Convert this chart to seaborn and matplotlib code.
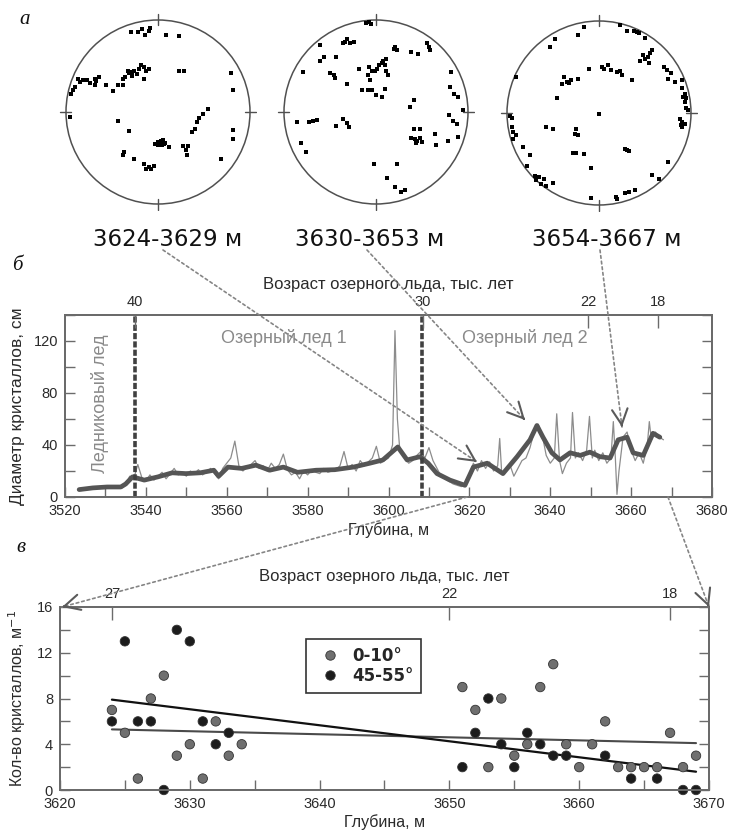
import numpy as np
import pandas as pd
import matplotlib
matplotlib.use("Agg")
import matplotlib.pyplot as plt
import seaborn as sns
from matplotlib.patches import Circle
from matplotlib.ticker import MultipleLocator

sns.set_style("ticks")
plt.rcParams['font.family'] = ['Liberation Sans', 'DejaVu Sans']

# ---------------- data ----------------
# stereonet poles (normalised coordinates inside unit circle)
s1_u = [-0.29,-0.22,-0.17,-0.14,-0.10,-0.09,0.09,0.23,
        -0.33,-0.31,-0.28,-0.26,-0.21,-0.18,-0.15,-0.13,-0.10,-0.23,-0.28,-0.36,-0.15,-0.38,0.23,0.28,
        -0.87,-0.85,-0.82,-0.77,-0.74,-0.69,-0.67,-0.64,-0.69,-0.56,-0.49,-0.44,-0.38,-0.92,-0.90,-0.95,
        0.79,0.81,-0.96,-0.44,-0.31,
        0.54,0.49,0.45,0.42,0.40,0.37,0.81,0.82,
        -0.03,0.00,0.03,0.05,0.06,0.04,0.08,0.12,0.00,0.27,0.33,0.31,0.30,
        -0.37,-0.38,-0.26,-0.15,-0.13,-0.08,-0.04,-0.10,0.69]
s1_v = [0.87,0.87,0.90,0.84,0.88,0.91,0.84,0.83,
        0.45,0.42,0.44,0.45,0.47,0.51,0.49,0.45,0.47,0.41,0.39,0.38,0.36,0.36,0.45,0.45,
        0.36,0.33,0.35,0.35,0.32,0.36,0.34,0.38,0.29,0.29,0.23,0.29,0.29,0.24,0.27,0.20,
        0.42,0.24,-0.05,-0.10,-0.21,
        0.03,-0.02,-0.07,-0.11,-0.18,-0.22,-0.20,-0.29,
        -0.35,-0.33,-0.31,-0.30,-0.35,-0.36,-0.34,-0.38,-0.36,-0.37,-0.37,-0.47,-0.41,
        -0.43,-0.47,-0.51,-0.56,-0.62,-0.62,-0.59,-0.60,-0.51]

s2_u = [-0.11,-0.08,-0.05,-0.34,-0.31,-0.28,-0.24,-0.36,-0.61,0.21,0.23,0.20,0.55,0.58,0.59,0.38,0.46,
        -0.56,-0.61,-0.44,0.11,0.08,0.06,0.03,0.10,0.01,-0.01,-0.04,0.11,-0.79,-0.50,-0.46,-0.45,
        -0.19,-0.08,-0.09,-0.06,0.13,-0.31,-0.15,-0.09,-0.04,0.00,0.06,0.10,0.81,0.80,0.85,0.89,
        0.41,0.37,0.95,-0.86,-0.73,-0.68,-0.64,-0.44,-0.36,-0.31,-0.29,0.79,0.84,0.88,
        0.41,0.48,0.38,0.42,0.45,0.48,0.50,0.43,0.64,0.65,0.78,0.89,-0.81,-0.76,
        -0.02,0.23,0.12,0.21,0.27,0.31]
s2_v = [0.97,0.98,0.96,0.76,0.79,0.75,0.76,0.75,0.73,0.71,0.67,0.69,0.75,0.71,0.67,0.65,0.63,
        0.60,0.55,0.60,0.58,0.55,0.53,0.51,0.51,0.47,0.45,0.45,0.45,0.44,0.42,0.40,0.37,
        0.47,0.49,0.40,0.35,0.40,0.30,0.24,0.24,0.24,0.19,0.16,0.25,0.43,0.27,0.20,0.16,
        0.13,0.05,0.02,-0.11,-0.11,-0.10,-0.09,-0.15,-0.08,-0.12,-0.16,-0.03,-0.10,-0.13,
        -0.19,-0.19,-0.28,-0.29,-0.31,-0.28,-0.33,-0.34,-0.24,-0.36,-0.31,-0.27,-0.34,-0.43,
        -0.57,-0.56,-0.72,-0.81,-0.87,-0.85]

s3_u = [-0.16,-0.23,0.23,0.30,0.38,0.41,0.44,0.50,-0.48,-0.53,0.58,0.55,0.53,0.50,0.48,0.45,0.54,
        0.71,0.74,0.78,0.75,0.83,0.90,-0.11,0.03,0.05,0.10,0.13,0.20,0.25,0.23,0.36,
        -0.38,-0.35,-0.33,-0.40,-0.30,-0.23,-0.90,0.90,0.93,0.95,0.91,0.94,-0.46,0.95,0.97,
        0.00,-0.97,-0.95,0.88,0.90,0.89,0.93,0.90,-0.95,-0.93,-0.90,-0.93,-0.58,-0.50,
        -0.25,-0.26,-0.23,0.28,0.30,0.33,-0.28,-0.25,-0.16,-0.83,-0.75,0.75,-0.09,-0.78,
        -0.70,-0.65,-0.60,-0.68,-0.63,-0.58,-0.50,0.58,0.65,-0.09,0.18,0.20,0.28,0.33,0.39]
s3_v = [0.94,0.85,0.96,0.89,0.89,0.88,0.87,0.81,0.80,0.72,0.68,0.65,0.61,0.59,0.63,0.56,0.54,
        0.50,0.47,0.43,0.37,0.34,0.36,0.48,0.50,0.48,0.52,0.47,0.45,0.41,0.46,0.36,
        0.39,0.34,0.33,0.32,0.36,0.37,0.39,0.27,0.21,0.16,0.17,0.12,0.16,0.05,0.03,
        -0.01,-0.03,-0.05,-0.06,-0.10,-0.13,-0.12,-0.15,-0.15,-0.21,-0.24,-0.28,-0.15,-0.17,
        -0.17,-0.23,-0.24,-0.39,-0.40,-0.41,-0.43,-0.44,-0.45,-0.37,-0.46,-0.53,-0.60,-0.58,
        -0.68,-0.70,-0.72,-0.73,-0.77,-0.79,-0.76,-0.67,-0.72,-0.92,-0.91,-0.93,-0.87,-0.86,-0.84]

stereo_labels = ["3624-3629 м", "3630-3653 м", "3654-3667 м"]

# crystal diameter profile (raw, thin line)
thin_depth = [3524,3526,3528,3530,3532,3534,3535,3536,3537,3538,3539,3540,3541,3542,3543,3544,3545,
              3546,3547,3548,3549,3550,3551,3552,3553,3554,3555,3556,3557,3558,3559,3560,3561,3562,
              3563,3564,3565,3566,3567,3568,3569,3570,3571,3572,3573,3574,3575,3576,3577,3578,3579,
              3580,3581,3582,3583,3584,3585,3586,3587,3588,3589,3590,3591,3592,3593,3594,3595,3596,
              3597,3598,3599,3600,3601,3601.6,3602.2,3602.8,3603.5,3604,3605,3606,3607,3608,3609,3610,
              3611,3612,3613,3614,3615,3616,3617,3618,3619,3620,3621,3622,3623,3624,3625,3626,3627,
              3627.5,3628,3629,3630,3631,3632,3633,3634,3635,3636,3637,3638,3639,3640,3641,3641.6,
              3642.3,3643,3644,3645,3645.5,3646.2,3647,3648,3649,3649.7,3650.4,3651,3652,3653,3654,
              3655,3655.6,3656.1,3656.5,3657,3658,3659,3660,3661,3662,3663,3664,3664.5,3665,3666,
              3667,3668]
thin_diam = [5,6,8,7,8,7,9,16,14,25,15,12,17,13,16,19,14,
             18,22,17,19,16,20,18,21,17,19,22,18,14,22,26,30,43,
             24,20,23,25,28,22,24,20,26,22,25,33,21,17,19,14,20,
             17,21,19,18,22,19,20,21,24,35,22,25,20,28,24,27,30,
             39,26,28,30,40,128,60,36,32,30,26,28,32,35,30,38,
             28,22,16,14,12,10,9,8,9,18,26,20,28,22,27,20,24,
             45,18,20,25,16,22,28,30,38,50,56,48,32,26,30,64,
             28,18,26,30,65,30,34,28,36,62,30,36,28,34,26,
             30,58,30,2,20,46,50,36,28,34,26,40,58,44,50,
             46,44]

# smoothed profile (thick line)
thick_depth = [3523.5,3526.9,3530.4,3533.8,3535,3536.7,3539.6,3543,3546.5,3549.9,3553.4,3556.8,3558,
               3560.3,3563.7,3567.2,3570.6,3574,3577.5,3582.1,3586.7,3591.3,3595.4,3598.6,3602.3,
               3604.6,3607.8,3609.8,3612,3615.2,3618.9,3621,3624.4,3628.3,3631.8,3635,3636.7,
               3638.2,3640.4,3642.4,3644.9,3647.4,3649.8,3652.3,3654.8,3656.8,3659,3660.5,3663,
               3665.4,3667.1]
thick_diam = [5.7,7,7.7,7.7,10,15.5,13,15.5,18.6,18,18.6,20.6,16,
              23,22,24.5,20.6,23,19,20.6,21,23,26,28.5,38.5,
              28.5,31,26,18,13,9,23,26,18,31,44,55,
              46,34,28.5,34,32,34.5,31,30,44,46,34,32,
              49,46]

boundary_depth = [3537.3, 3608.3]
age_tick_depth_b = [3537.3, 3608.5, 3649.4, 3666.7]
age_tick_label_b = ["40", "30", "22", "18"]

# crystal counts
gray_depth = [3624,3625,3626,3627,3628,3629,3630,3631,3632,3633,3634,3651,3652,3653,3654,3655,
              3656,3657,3658,3659,3660,3661,3662,3663,3664,3665,3666,3667,3668,3669]
gray_count = [7,5,1,8,10,3,4,1,6,3,4,9,7,2,8,3,4,9,11,4,2,4,6,2,2,2,2,5,2,3]
black_depth = [3624,3625,3626,3627,3628,3629,3630,3631,3632,3633,3651,3652,3653,3654,3655,3656,
               3657,3658,3659,3662,3664,3666,3668,3669]
black_count = [6,13,6,6,0,14,13,6,4,5,2,5,8,4,2,5,4,3,3,3,1,1,0,0]
trend_depth = [3624, 3669]
trend_gray = [5.3, 4.1]
trend_black = [7.9, 1.6]
age_tick_depth_c = [3624, 3650, 3667]
age_tick_label_c = ["27", "22", "18"]

# ---------------- figure ----------------
W, H = 729, 831
fig = plt.figure(figsize=(W / 100, H / 100), dpi=100)


def rect(x0, y0, x1, y1):
    return [x0 / W, 1 - y1 / H, (x1 - x0) / W, (y1 - y0) / H]


SP = '#6b6b6b'
TXT = '#2a2a2a'
GRAYTXT = '#8a8a8a'

# ---- panel a: stereonets
centers = [(158, 112), (376, 112), (599, 113)]
label_x = [168, 370, 607]
R = 92
for (cx, cy), uu, vv, lab, lx in zip(centers, [s1_u, s2_u, s3_u], [s1_v, s2_v, s3_v], stereo_labels, label_x):
    ax = fig.add_axes(rect(cx - 1.08 * R, cy - 1.08 * R, cx + 1.08 * R, cy + 1.08 * R))
    ax.set_xlim(-1.08, 1.08)
    ax.set_ylim(-1.08, 1.08)
    ax.axis('off')
    ax.add_patch(Circle((0, 0), 1, fill=False, ec='#505050', lw=1.1))
    for a, b in [(1, 0), (-1, 0), (0, 1), (0, -1)]:
        ax.plot([a * 0.95, a * 1.06], [b * 0.95, b * 1.06], color='#505050', lw=1.0)
    sns.scatterplot(x=uu, y=vv, ax=ax, color='black', marker='s', s=8, linewidth=0)
    fig.text(lx / W, 1 - 239 / H, lab, ha='center', va='center', fontsize=16.5,
             family='DejaVu Sans', color='#111111')

# ---- panel b: diameter profile
axb = fig.add_axes(rect(65, 315, 712, 497))
sns.lineplot(x=thin_depth, y=thin_diam, ax=axb, color='#8c8c8c', lw=0.9, estimator=None, sort=False)
sns.lineplot(x=thick_depth, y=thick_diam, ax=axb, color='#555555', lw=3.4, estimator=None, sort=False)
for d in boundary_depth:
    axb.axvline(d, color='#404040', lw=2.6, dashes=(1.7, 0.6))
axb.set_xlim(3520, 3680)
axb.set_ylim(0, 140)
axb.xaxis.set_major_locator(MultipleLocator(20))
axb.xaxis.set_minor_locator(MultipleLocator(10))
axb.yaxis.set_major_locator(MultipleLocator(40))
axb.yaxis.set_minor_locator(MultipleLocator(20))
axb.tick_params(which='both', direction='in', right=True, color=SP, width=1, labelcolor=TXT,
                labelsize=10.5, pad=5, length=7)
axb.set_xlabel("Глубина, м", fontsize=11.5, color=TXT, labelpad=3)
axb.set_ylabel("Диаметр кристаллов, см", fontsize=12.5, color=TXT, labelpad=6)
axb.text(3574.2, 122, "Озерный лед 1", ha='center', va='center', fontsize=13, color=GRAYTXT)
axb.text(3633.8, 122, "Озерный лед 2", ha='center', va='center', fontsize=13, color=GRAYTXT)
axb.text(3528.7, 72, "Ледниковый лед", ha='center', va='center', rotation=90, fontsize=13, color=GRAYTXT)
for s in axb.spines.values():
    s.set_color(SP)
    s.set_linewidth(1.4)
axbt = axb.twiny()
axbt.set_xlim(3520, 3680)
axbt.set_xticks(age_tick_depth_b)
axbt.set_xticklabels(age_tick_label_b)
axbt.tick_params(direction='in', length=9, color=SP, width=1, labelcolor=TXT, labelsize=10.5, pad=4)
axbt.set_xlabel("Возраст озерного льда, тыс. лет", fontsize=12, color=TXT, labelpad=5)
for s in axbt.spines.values():
    s.set_color(SP)
    s.set_linewidth(1.4)

# ---- panel c: crystal counts
axc = fig.add_axes(rect(60, 607, 709, 790))
df = pd.DataFrame({
    'depth': gray_depth + black_depth,
    'count': gray_count + black_count,
    'group': ['0-10°'] * len(gray_depth) + ['45-55°'] * len(black_depth),
})
sns.scatterplot(data=df, x='depth', y='count', hue='group', ax=axc,
                palette={'0-10°': '#6f6f6f', '45-55°': '#1c1c1c'},
                s=46, edgecolor='#333333', linewidth=0.6, clip_on=False, zorder=3)
sns.lineplot(x=trend_depth, y=trend_gray, ax=axc, color='#4a4a4a', lw=1.5)
sns.lineplot(x=trend_depth, y=trend_black, ax=axc, color='#111111', lw=1.6)
axc.set_xlim(3620, 3670)
axc.set_ylim(0, 16)
axc.xaxis.set_major_locator(MultipleLocator(10))
axc.xaxis.set_minor_locator(MultipleLocator(5))
axc.yaxis.set_major_locator(MultipleLocator(4))
axc.yaxis.set_minor_locator(MultipleLocator(2))
axc.tick_params(which='both', direction='in', right=True, color=SP, width=1, labelcolor=TXT,
                labelsize=10.5, pad=5, length=7)
axc.set_xlabel("Глубина, м", fontsize=11.5, color=TXT, labelpad=2)
axc.set_ylabel("Кол-во кристаллов, м$^{-1}$", fontsize=11.5, color=TXT, labelpad=6)
for s in axc.spines.values():
    s.set_color(SP)
    s.set_linewidth(1.4)
h, l = axc.get_legend_handles_labels()
leg = axc.legend(h, l, loc='upper left', bbox_to_anchor=(0.379, 0.825), frameon=True,
                 fancybox=False, edgecolor='#333333', framealpha=1,
                 prop={'family': 'DejaVu Sans', 'weight': 'bold', 'size': 12},
                 handletextpad=0.3, labelspacing=0.15, borderpad=0.45, handlelength=2.0,
                 borderaxespad=0)
leg.get_frame().set_linewidth(1.2)
axct = axc.twiny()
axct.set_xlim(3620, 3670)
axct.set_xticks(age_tick_depth_c)
axct.set_xticklabels(age_tick_label_c)
axct.tick_params(direction='in', length=9, color=SP, width=1, labelcolor=TXT, labelsize=10.5, pad=4)
axct.set_xlabel("Возраст озерного льда, тыс. лет", fontsize=12, color=TXT, labelpad=5)
for s in axct.spines.values():
    s.set_color(SP)
    s.set_linewidth(1.4)

# ---- panel letters
for txt, (x, y) in zip(["а", "б", "в"], [(25, 19), (17, 265), (21, 547)]):
    fig.text(x / W, 1 - y / H, txt, ha='center', va='center', fontsize=15,
             family='Liberation Serif', style='italic', color='#111111')

# ---- connecting dotted arrows
ov = fig.add_axes([0, 0, 1, 1], zorder=10)
ov.set_xlim(0, W)
ov.set_ylim(H, 0)
ov.axis('off')
ov.patch.set_alpha(0)
arrows = [((163, 250), (477, 462)), ((367, 250), (525, 420)), ((600, 250), (622, 427)),
          ((467, 497), (62, 607)), ((668, 497), (709, 607))]
for (x0, y0), (x1, y1) in arrows:
    ov.annotate('', xy=(x1, y1), xytext=(x0, y0),
                arrowprops=dict(arrowstyle='-', ls=(0, (1.6, 1.8)), color='#858585', lw=1.2,
                                shrinkA=0, shrinkB=0))
    d = np.array([x1 - x0, y1 - y0], float)
    d /= np.hypot(*d)
    ov.annotate('', xy=(x1, y1), xytext=(x1 - d[0] * 2, y1 - d[1] * 2),
                arrowprops=dict(arrowstyle='->,head_length=0.7,head_width=0.35', color='#5a5a5a',
                                lw=1.5, shrinkA=0, shrinkB=0, mutation_scale=16))

fig.savefig("out.png", dpi=100)
